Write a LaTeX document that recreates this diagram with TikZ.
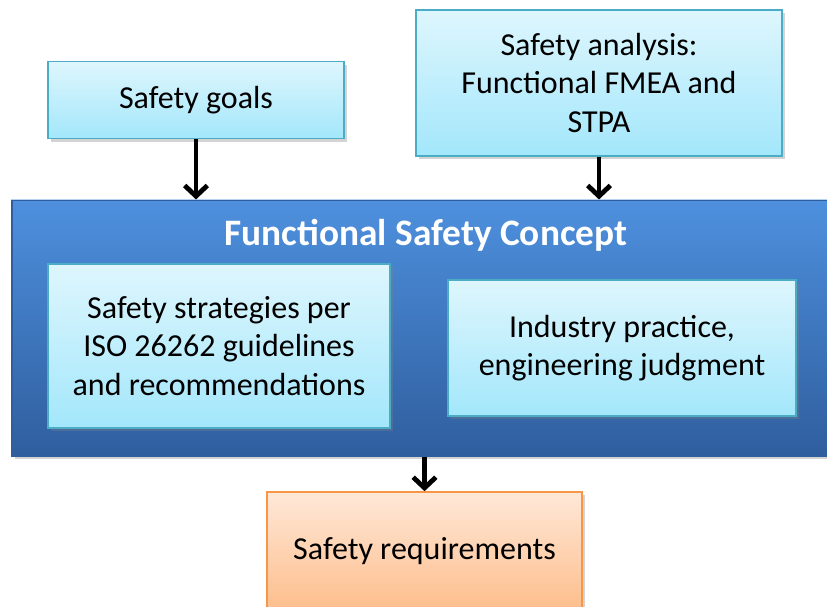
\documentclass[tikz,border=0pt]{standalone}
\usepackage{fontspec}
\setmainfont{Carlito}
\usetikzlibrary{arrows.meta,shadows}
\definecolor{aqualine}{RGB}{75, 172, 198}
\definecolor{aquatop}{RGB}{222, 246, 253}
\definecolor{aquabot}{RGB}{163, 231, 251}
\definecolor{fsctop}{RGB}{78, 144, 222}
\definecolor{fscmid}{RGB}{63, 124, 204}
\definecolor{fscbot}{RGB}{47, 94, 158}
\definecolor{reqline}{RGB}{247, 150, 70}
\definecolor{reqtop}{RGB}{255, 232, 216}
\definecolor{reqbot}{RGB}{253, 190, 140}
\tikzstyle{shade}=[drop shadow={opacity=0.35,shadow xshift=2pt,shadow yshift=-2.5pt}]
\tikzstyle{inbox}=[rectangle,draw=aqualine,line width=1.2pt,top color=aquatop,bottom color=aquabot,align=center,shade,font=\fontsize{24}{29}\selectfont]
\tikzstyle{outbox}=[rectangle,draw=reqline,line width=1.2pt,top color=reqtop,bottom color=reqbot,align=center,shade,font=\fontsize{24}{29}\selectfont]
\tikzstyle{conceptbox}=[rectangle,draw=fscbot,line width=0.8pt,top color=fsctop,middle color=fscmid,bottom color=fscbot,shade]
\tikzstyle{flow}=[line width=3.6pt,-{Straight Barb[length=8pt,width=17pt]}]

\begin{document}
\begin{tikzpicture}[x=0.75pt,y=-0.75pt]

      \useasboundingbox (0,0) rectangle (827,606);

      % inputs
      \node (goals) at (196,100) [inbox,minimum width=222pt,minimum height=57.75pt] {Safety goals};
      \node (analysis) at (599,83) [inbox,minimum width=274.5pt,minimum height=109.5pt] {Safety analysis:\\Functional FMEA and\\STPA};

      % concept
      \node (fsc) at (431,328) [conceptbox,minimum width=628.5pt,minimum height=192pt] {};
      \draw[white!60!fsctop,line width=1pt] (fsc.north west) -- (fsc.north east);
      \node (title) at (426,235) [text=white,font=\fontsize{28}{33}\selectfont\bfseries] {Functional Safety Concept};
      \node (iso) at (219,346) [inbox,minimum width=256.5pt,minimum height=123pt] {Safety strategies per\\ISO 26262 guidelines\\and recommendations};
      \node (practice) at (622,348) [inbox,minimum width=261pt,minimum height=102pt] {Industry practice,\\engineering judgment};

      % output
      \node (req) at (424.5,551) [outbox,minimum width=236.25pt,minimum height=88.5pt] {Safety requirements};

      \draw[flow] (goals.south) -- (goals.south |- fsc.north);
      \draw[flow] (analysis.south) -- (analysis.south |- fsc.north);
      \draw[flow] (fsc.south -| req.north) -- (req.north);

\end{tikzpicture}
\end{document}
